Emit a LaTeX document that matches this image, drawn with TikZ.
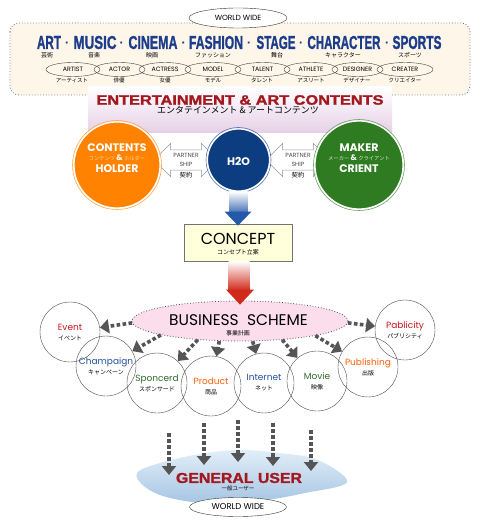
\documentclass[tikz,border=0pt]{standalone}
\usepackage{graphicx}
\usepackage{xcolor}
\usepackage{fontspec}
\setmainfont{Poppins}
\newfontfamily\jp{Noto Sans CJK JP}
\newfontfamily\heavy[FakeBold=1.5]{Liberation Sans Bold}
\usetikzlibrary{arrows.meta}
\usetikzlibrary{shapes.geometric}
\usetikzlibrary{shapes.arrows}
\usetikzlibrary{calc}

\definecolor{navy}{HTML}{1C3C8C}
\definecolor{cream}{HTML}{FFF6EA}
\definecolor{lilac}{HTML}{E6D0E8}
\definecolor{wine}{HTML}{A3181E}
\definecolor{orangec}{HTML}{FF8200}
\definecolor{paleo}{HTML}{FFD9A0}
\definecolor{h2oblue}{HTML}{0C3D80}
\definecolor{greenc}{HTML}{2E7B22}
\definecolor{paleg}{HTML}{D6E8C8}
\definecolor{conyel}{HTML}{FFFFDC}
\definecolor{arrblue}{HTML}{2458A8}
\definecolor{arrred}{HTML}{D02A1A}
\definecolor{bspink}{HTML}{FCDDEC}
\definecolor{dotgray}{HTML}{555555}
\definecolor{txtred}{HTML}{C8141A}
\definecolor{txtblue}{HTML}{22509C}
\definecolor{txtgreen}{HTML}{2D6A2D}
\definecolor{txtorange}{HTML}{FF5F0A}
\definecolor{cloudtop}{HTML}{E2EEF9}
\definecolor{cloudbot}{HTML}{A5C4E2}

\newcommand{\fsz}[1]{\fontsize{#1}{#1}\selectfont}

\begin{document}
\begin{tikzpicture}[x=1bp,y=-1bp]

	\tikzstyle{genre} = [inner sep=0pt,text=navy]
	\tikzstyle{jsmall} = [inner sep=0pt,font=\jp\fsz{6}]
	\tikzstyle{role} = [ellipse,draw=black!75,inner sep=0pt,minimum height=14bp,font=\fsz{6.3}]
	\tikzstyle{bigc} = [circle,inner sep=0pt,draw=white,line width=1.2bp]
	\tikzstyle{ctext} = [inner sep=0pt,text=white,font=\bfseries\fsz{11}]
	\tikzstyle{partner} = [double arrow,draw=black!40,fill=white,inner xsep=2bp,inner ysep=3.3bp,minimum height=64bp,double arrow head extend=6.5bp,align=center,font=\fontsize{6bp}{9bp}\selectfont,text=black!70]
	\tikzstyle{scheme} = [circle,draw=black!70,minimum size=60bp,inner sep=0pt,align=center,font=\fontsize{9bp}{10bp}\selectfont]
	\tikzstyle{dotarrow} = [draw=dotgray,line width=3.6bp,dash pattern=on 3.6bp off 2.4bp,-{Triangle[length=9bp,width=14bp]}]
	\tikzstyle{wwide} = [ellipse,draw=black!80,fill=white,inner sep=0pt]

	\useasboundingbox (0,0) rectangle (477,523);

	% world wide frame
	\draw[black!55,dotted,line width=0.8bp,fill=cream,rounded corners=9bp] (10,23) rectangle (470,95);
	\shade[top color=white,bottom color=lilac] (88,87) rectangle (392,133);
	\node[wwide,minimum width=98bp,minimum height=20bp,font=\fsz{7.5}] (ww-top) at (238,18) {WORLD WIDE};

	% genres
	\node[genre] (art) at (49,42.5) {\resizebox{24bp}{13bp}{\heavy ART}};
	\node[genre] (music) at (95,42.5) {\resizebox{43bp}{13bp}{\heavy MUSIC}};
	\node[genre] (cinema) at (153,42.5) {\resizebox{49bp}{13bp}{\heavy CINEMA}};
	\node[genre] (fashion) at (216,42.5) {\resizebox{54bp}{13bp}{\heavy FASHION}};
	\node[genre] (stage) at (276,42.5) {\resizebox{39bp}{13bp}{\heavy STAGE}};
	\node[genre] (character) at (344,42.5) {\resizebox{73bp}{13bp}{\heavy CHARACTER}};
	\node[genre] (sports) at (417,42.5) {\resizebox{49bp}{13bp}{\heavy SPORTS}};
	\node[genre] (dot1) at (67,44) {\heavy\fsz{11}·};
	\node[genre] (dot2) at (121.5,44) {\heavy\fsz{11}·};
	\node[genre] (dot3) at (183.5,44) {\heavy\fsz{11}·};
	\node[genre] (dot4) at (249,44) {\heavy\fsz{11}·};
	\node[genre] (dot5) at (301,44) {\heavy\fsz{11}·};
	\node[genre] (dot6) at (387,44) {\heavy\fsz{11}·};

	\node[jsmall] (art-j) at (47,55.5) {芸術};
	\node[jsmall] (music-j) at (94,55.5) {音楽};
	\node[jsmall] (cinema-j) at (152,55.5) {映画};
	\node[jsmall] (fashion-j) at (213,55.5) {ファッション};
	\node[jsmall] (stage-j) at (277,55.5) {舞台};
	\node[jsmall] (character-j) at (343,55.5) {キャラクター};
	\node[jsmall] (sports-j) at (410,55.5) {スポーツ};

	% people
	\node[role,minimum width=54bp] (artist) at (73,69.5) {ARTIST};
	\node[role,minimum width=51bp] (actor) at (119.5,69.5) {ACTOR};
	\node[role,minimum width=52bp] (actress) at (165,69.5) {ACTRESS};
	\node[role,minimum width=56bp] (model) at (213,69.5) {MODEL};
	\node[role,minimum width=55bp] (talent) at (262.5,69.5) {TALENT};
	\node[role,minimum width=54bp] (athlete) at (311,69.5) {ATHLETE};
	\node[role,minimum width=51bp] (designer) at (357.5,69.5) {DESIGNER};
	\node[role,minimum width=56bp] (creater) at (405,69.5) {CREATER};

	\node[jsmall,font=\jp\fsz{5.5}] (artist-j) at (72,80.5) {アーティスト};
	\node[jsmall,font=\jp\fsz{5.5}] (actor-j) at (119,80.5) {俳優};
	\node[jsmall,font=\jp\fsz{5.5}] (actress-j) at (165,80.5) {女優};
	\node[jsmall,font=\jp\fsz{5.5}] (model-j) at (213,80.5) {モデル};
	\node[jsmall,font=\jp\fsz{5.5}] (talent-j) at (262,80.5) {タレント};
	\node[jsmall,font=\jp\fsz{5.5}] (athlete-j) at (311,80.5) {アスリート};
	\node[jsmall,font=\jp\fsz{5.5}] (designer-j) at (357,80.5) {デザイナー};
	\node[jsmall,font=\jp\fsz{5.5}] (creater-j) at (405,80.5) {クリエイター};

	% contents
	\node[inner sep=0pt,text=wine] (ent) at (240,100) {\resizebox{287bp}{9.5bp}{\heavy ENTERTAINMENT \& ART CONTENTS}};
	\node[inner sep=0pt,font=\jp\fsz{9}] (ent-j) at (238,110.5) {エンタテインメント \& アートコンテンツ};

	\node[partner] (ps-l) at (186,160) {PARTNER\\SHIP};
	\node[partner] (ps-r) at (298,160) {PARTNER\\SHIP};
	\node[jsmall,font=\jp\fsz{6.3}] (ps-l-j) at (186,175.5) {契約};
	\node[jsmall,font=\jp\fsz{6.3}] (ps-r-j) at (298,175.5) {契約};

	\node[bigc,fill=orangec,minimum size=86bp] (holder) at (117,165) {};
	\draw[orangec!70,line width=0.6bp] (holder.center) circle[radius=44.5bp];
	\node[bigc,fill=h2oblue,minimum size=62bp] (h2o) at (238.5,160) {};
	\draw[h2oblue!70,line width=0.6bp] (h2o.center) circle[radius=32.5bp];
	\node[bigc,fill=greenc,minimum size=88bp] (maker) at (359,165) {};
	\draw[greenc!70,line width=0.6bp] (maker.center) circle[radius=45.5bp];

	\node[ctext] (holder-t) at (117,148) {CONTENTS};
	\node[ctext,font=\fsz{5.3}] (holder-j) at (117,157.5) {{\jp\color{paleo}コンテンツ}{\bfseries\fsz{8}\,\&\,}{\jp\color{paleo}ホルダー}};
	\node[ctext] (holder-b) at (117,169) {HOLDER};
	\node[ctext] (h2o-t) at (238.5,161) {H2O};
	\node[ctext] (maker-t) at (359,148) {MAKER};
	\node[ctext,font=\fsz{5.3}] (maker-j) at (359,157.5) {{\jp\color{paleg}メーカー}{\bfseries\fsz{8}\,\&\,}{\jp\color{paleg}クライアント}};
	\node[ctext] (maker-b) at (359,169) {CRIENT};

	% concept
	\node[draw=black!55,line width=0.8bp,fill=conyel,minimum width=108bp,minimum height=37bp] (concept) at (238,242.5) {};
	\node[inner sep=0pt,font=\fsz{16}] (concept-t) at (238,238.5) {CONCEPT};
	\node[jsmall] (concept-j) at (238,252) {コンセプト立案};
	\shade[top color=white,bottom color=arrblue!85] ($(h2o.south)+(-9.5,0)$) rectangle ($(concept.north)+(9.5,-11)$);
	\fill[arrblue] ($(concept.north)+(-13.5,-12)$) -- ($(concept.north)+(13.5,-12)$) -- ($(concept.north)+(0,2)$) -- cycle;

	% business scheme
	\node[ellipse,draw=black!70,dotted,line width=0.8bp,fill=bspink,minimum width=216bp,minimum height=40bp] (bs) at (240,321) {};
	\node[inner sep=0pt,font=\fsz{15.5}] (bs-t) at (238.5,320) {BUSINESS\ \ SCHEME};
	\node[jsmall] (bs-j) at (238,333) {事業計画};
	\shade[top color=white,bottom color=arrred] ($(concept.south)+(-9.5,0)$) rectangle ($(bs.north)+(9.5,-10)$);
	\fill[arrred] ($(bs.north)+(-14,-11)$) -- ($(bs.north)+(14,-11)$) -- ($(bs.north)+(0,4)$) -- cycle;

	\node[scheme] (event) at (70,332) {\textcolor{txtred}{Event}\\{\jp\fsz{6}イベント}};
	\node[scheme] (champ) at (106,366) {\textcolor{txtblue}{Champaign}\\{\jp\fsz{6}キャンペーン}};
	\node[scheme] (spon) at (157,383) {\textcolor{txtgreen}{Sponcerd}\\{\jp\fsz{6}スポンサード}};
	\node[scheme] (prod) at (211,386) {\textcolor{txtorange}{Product}\\{\jp\fsz{6}商品}};
	\node[scheme] (inet) at (264,383) {\textcolor{txtblue}{Internet}\\{\jp\fsz{6}ネット}};
	\node[scheme] (movie) at (317,381) {\textcolor{txtgreen}{Movie}\\{\jp\fsz{6}映像}};
	\node[scheme] (publ) at (368,367) {\textcolor{txtorange}{Publishing}\\{\jp\fsz{6}出版}};
	\node[scheme] (pabl) at (405,330) {\textcolor{txtred}{Pablicity}\\{\jp\fsz{6}パブリシティ}};

	\draw[dotarrow] (bs.181) -- (event);
	\draw[dotarrow] (bs.190) -- (champ);
	\draw[dotarrow] (bs.204) -- (spon);
	\draw[dotarrow] (bs.224) -- (prod);
	\draw[dotarrow] (bs.-58) -- (inet);
	\draw[dotarrow] (bs.-24) -- (movie);
	\draw[dotarrow] (bs.-11) -- (publ);
	\draw[dotarrow] (bs.-1) -- (pabl);

	% general user
	\shade[top color=cloudtop,bottom color=cloudbot] plot[smooth cycle,tension=0.6] coordinates {(137,473) (160,463) (200,454) (240,450) (280,453) (318,460) (347,482) (305,493) (260,501) (215,504) (170,498) (145,487)};

	\coordinate (top-a) at (169,433); \coordinate (tip-a) at (169,475);
	\coordinate (top-b) at (204,423); \coordinate (tip-b) at (204,465);
	\coordinate (top-c) at (238,420); \coordinate (tip-c) at (238,462);
	\coordinate (top-d) at (273,423); \coordinate (tip-d) at (273,466);
	\coordinate (top-e) at (311,430); \coordinate (tip-e) at (311,471);
	\draw[dotarrow] (top-a) -- (tip-a);
	\draw[dotarrow] (top-b) -- (tip-b);
	\draw[dotarrow] (top-c) -- (tip-c);
	\draw[dotarrow] (top-d) -- (tip-d);
	\draw[dotarrow] (top-e) -- (tip-e);

	\node[inner sep=0pt,text=wine] (user) at (239,478) {\resizebox{126bp}{10bp}{\heavy GENERAL USER}};
	\node[jsmall,font=\jp\fsz{5.5}] (user-j) at (238,488.5) {一般ユーザー};
	\node[wwide,minimum width=97bp,minimum height=19bp,font=\fsz{8.5}] (ww-bot) at (238,507) {WORLD WIDE};

\end{tikzpicture}
\end{document}
